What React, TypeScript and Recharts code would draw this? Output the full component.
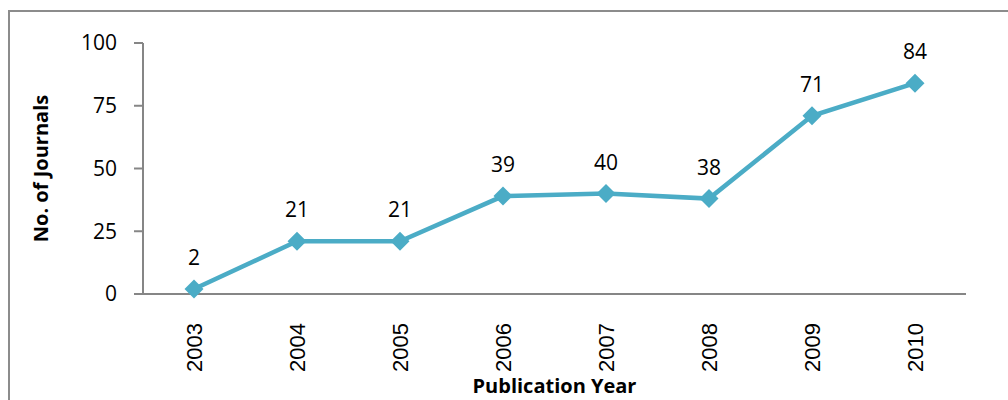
import { LineChart, Line, XAxis, YAxis, LabelList, Label } from "recharts";

const years = ["2003", "2004", "2005", "2006", "2007", "2008", "2009", "2010"];
const journals = [2, 21, 21, 39, 40, 38, 71, 84];
const yTicks = [0, 25, 50, 75, 100];

const data = years.map((year, i) => ({ year, journals: journals[i] }));

const LINE_COLOR = "#4BACC6";
const AXIS_COLOR = "#868686";

// diamond marker
const Diamond = (props: any) => {
  const { cx, cy } = props;
  if (cx == null || cy == null) return null;
  const r = 9.5;
  return (
    <polygon
      points={`${cx},${cy - r} ${cx + r},${cy} ${cx},${cy + r} ${cx - r},${cy}`}
      fill={LINE_COLOR}
    />
  );
};

// rotated year labels
const YearTick = (props: any) => {
  const { x, y, payload } = props;
  const ty = y + 21;
  return (
    <text
      x={x}
      y={ty}
      transform={`rotate(-90, ${x}, ${ty})`}
      textAnchor="end"
      dominantBaseline="central"
      fontFamily="'Liberation Sans', Arial, sans-serif"
      fontSize={22}
      fill="#000"
    >
      {payload.value}
    </text>
  );
};

export default function App() {
  return (
    <div
      style={{
        position: "absolute",
        left: 0,
        top: 0,
        width: 1008,
        height: 400,
        overflow: "hidden",
        background: "#fff",
      }}
    >
      {/* outer chart border (only left/top visible in the crop) */}
      <div
        style={{
          position: "absolute",
          left: 8,
          top: 10,
          width: 1100,
          height: 500,
          borderLeft: "2.5px solid #8c8c8c",
          borderTop: "2.5px solid #8c8c8c",
        }}
      />
      <div style={{ position: "absolute", left: 0, top: 0 }}>
        <LineChart
          width={1008}
          height={400}
          data={data}
          margin={{ top: 43, right: 42, bottom: 0, left: 0 }}
        >
          <XAxis
            dataKey="year"
            height={106}
            tick={<YearTick />}
            tickLine={false}
            axisLine={{ stroke: AXIS_COLOR, strokeWidth: 2 }}
            interval={0}
            padding={{ left: 51, right: 51 }}
          >
            <Label
              value="Publication Year"
              position="insideBottom"
              offset={7}
              fill="#000"
              fontFamily="'Open Sans', sans-serif"
              fontWeight="bold"
              fontSize={20}
            />
          </XAxis>
          <YAxis
            width={143}
            domain={[0, 100]}
            ticks={yTicks}
            tickSize={9}
            tickMargin={17}
            tickLine={{ stroke: AXIS_COLOR, strokeWidth: 2 }}
            axisLine={{ stroke: AXIS_COLOR, strokeWidth: 2 }}
            tick={{
              fill: "#000",
              fontSize: 21,
              fontFamily: "'Open Sans', sans-serif",
            }}
          >
            <Label
              value="No. of Journals"
              angle={-90}
              position="insideLeft"
              offset={41}
              fill="#000"
              fontFamily="'Open Sans', sans-serif"
              fontWeight="bold"
              fontSize={20}
              style={{ textAnchor: "middle" }}
            />
          </YAxis>
          <Line
            dataKey="journals"
            stroke={LINE_COLOR}
            strokeWidth={4.5}
            dot={<Diamond />}
            activeDot={false}
            isAnimationActive={false}
          >
            <LabelList
              dataKey="journals"
              position="top"
              offset={24}
              fill="#000"
              fontSize={21}
              fontFamily="'Open Sans', sans-serif"
            />
          </Line>
        </LineChart>
      </div>
    </div>
  );
}
